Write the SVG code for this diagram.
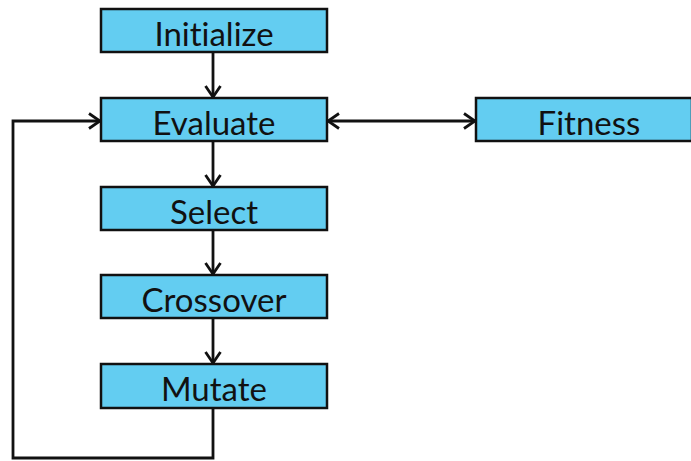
<svg xmlns="http://www.w3.org/2000/svg" width="691" height="461" viewBox="0 0 691 461">
  <style>
    .box { fill: #63CDF1; stroke: #111; stroke-width: 2.5; }
    .lbl { font-family: Lato, "Open Sans", sans-serif; font-size: 33px; fill: #111; text-anchor: middle; dominant-baseline: central; font-variant-ligatures: none; }
    .wire { fill: none; stroke: #111; stroke-width: 2.8; }
  </style>
  <defs>
    <marker id="chev" viewBox="0 0 16 18" refX="14" refY="9" markerWidth="16" markerHeight="18" markerUnits="userSpaceOnUse" orient="auto-start-reverse">
      <path d="M3,1.5 L14,9 L3,16.5" fill="none" stroke="#111" stroke-width="2.8"/>
    </marker>
  </defs>
  <rect width="691" height="461" fill="#fff"/>

  <g id="connectors">
    <line class="wire" x1="213" y1="52" x2="213" y2="97" marker-end="url(#chev)"/>
    <line class="wire" x1="213" y1="141" x2="213" y2="186" marker-end="url(#chev)"/>
    <line class="wire" x1="213" y1="230" x2="213" y2="274" marker-end="url(#chev)"/>
    <line class="wire" x1="213" y1="318" x2="213" y2="363" marker-end="url(#chev)"/>
    <line class="wire" x1="328" y1="121" x2="475" y2="121" marker-start="url(#chev)" marker-end="url(#chev)"/>
    <polyline class="wire" points="213,408 213,458 13,458 13,121 100,121" marker-end="url(#chev)"/>
  </g>

  <g id="initialize">
    <rect class="box" x="101" y="9" width="226" height="43"/>
    <text class="lbl" x="214" y="33">Initialize</text>
  </g>
  <g id="evaluate">
    <rect class="box" x="101" y="98" width="226" height="43"/>
    <text class="lbl" x="214" y="122">Evaluate</text>
  </g>
  <g id="fitness">
    <rect class="box" x="476" y="98" width="216" height="43"/>
    <text class="lbl" x="589" y="122">Fitness</text>
  </g>
  <g id="select">
    <rect class="box" x="101" y="187" width="226" height="43"/>
    <text class="lbl" x="214" y="211">Select</text>
  </g>
  <g id="crossover">
    <rect class="box" x="101" y="275" width="226" height="43"/>
    <text class="lbl" x="214" y="299">Crossover</text>
  </g>
  <g id="mutate">
    <rect class="box" x="101" y="364" width="226" height="44"/>
    <text class="lbl" x="214" y="388">Mutate</text>
  </g>
</svg>
